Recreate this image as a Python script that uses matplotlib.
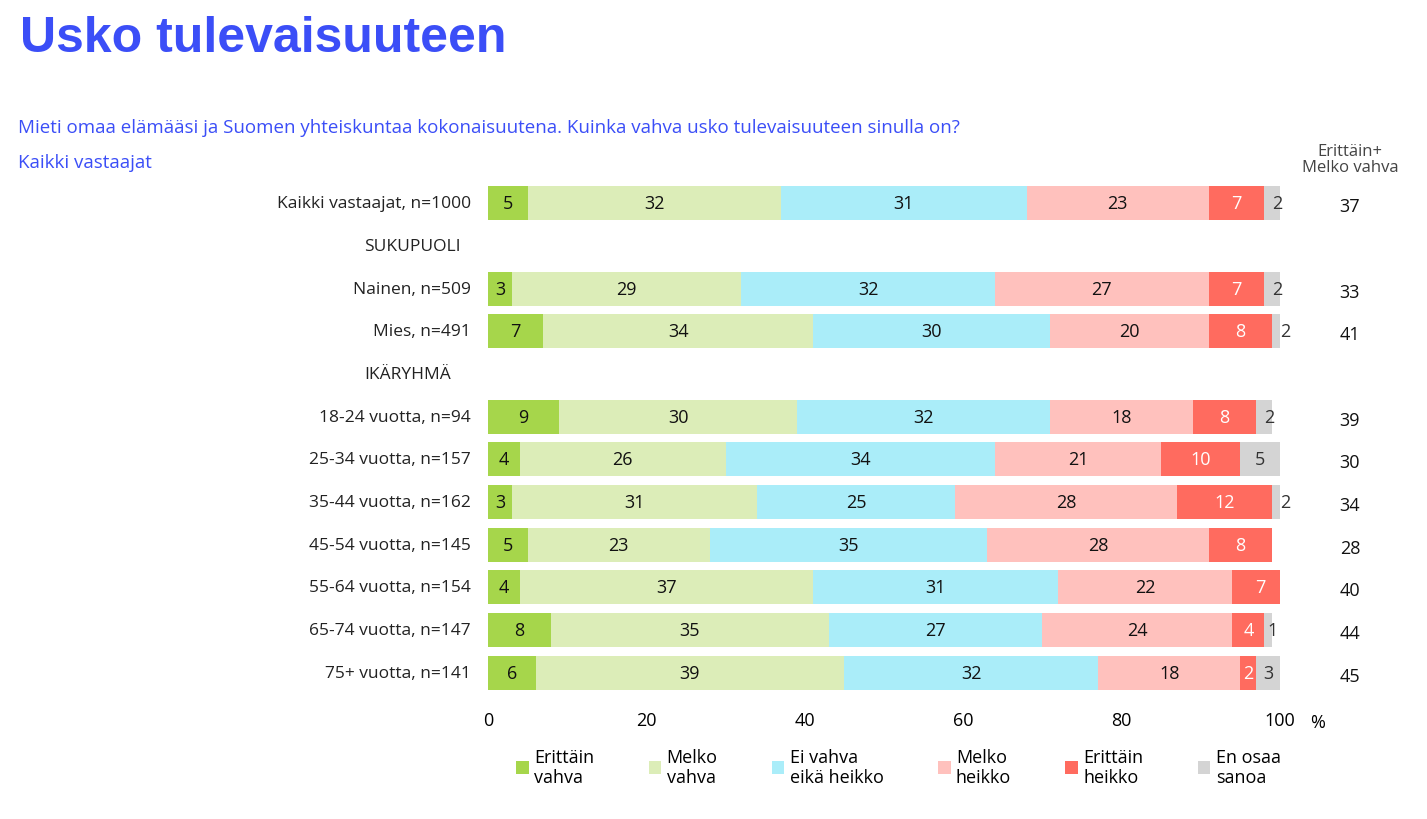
import numpy as np
import matplotlib
matplotlib.use('Agg')
import matplotlib.pyplot as plt
import matplotlib.transforms as mtrans
from matplotlib.patches import Patch

# rows, section headers take a row slot of their own
rows = ["Kaikki vastaajat, n=1000", "SUKUPUOLI", "Nainen, n=509", "Mies, n=491",
        "IKÄRYHMÄ", "18-24 vuotta, n=94", "25-34 vuotta, n=157", "35-44 vuotta, n=162",
        "45-54 vuotta, n=145", "55-64 vuotta, n=154", "65-74 vuotta, n=147",
        "75+ vuotta, n=141"]
headers = ["SUKUPUOLI", "IKÄRYHMÄ"]

erittain_vahva = [5, None, 3, 7, None, 9, 4, 3, 5, 4, 8, 6]
melko_vahva = [32, None, 29, 34, None, 30, 26, 31, 23, 37, 35, 39]
ei_vahva = [31, None, 32, 30, None, 32, 34, 25, 35, 31, 27, 32]
melko_heikko = [23, None, 27, 20, None, 18, 21, 28, 28, 22, 24, 18]
erittain_heikko = [7, None, 7, 8, None, 8, 10, 12, 8, 7, 4, 2]
en_osaa = [2, None, 2, 2, None, 2, 5, 2, 0, 0, 1, 3]
vahva_yht = [37, None, 33, 41, None, 39, 30, 34, 28, 40, 44, 45]

series = [erittain_vahva, melko_vahva, ei_vahva, melko_heikko, erittain_heikko, en_osaa]
names = ["Erittäin\nvahva", "Melko\nvahva", "Ei vahva\neikä heikko", "Melko\nheikko",
         "Erittäin\nheikko", "En osaa\nsanoa"]
colors = ["#A6D64B", "#DCEDB8", "#AAEDF9", "#FFC1BD", "#FF6B5F", "#D4D4D4"]
txtcol = ["#111111", "#111111", "#111111", "#111111", "white", "#333333"]

blue = "#3B4EF7"
plt.rcParams['font.family'] = ['Open Sans', 'DejaVu Sans']

fig = plt.figure(figsize=(14.27, 8.2), dpi=100)
ax = fig.add_axes([488/1427, 1-695/820, (1280-488)/1427, (695-183)/820])
ax.set_ylim(len(rows) - 0.5, -0.5)
ax.set_xlim(0, 100)

for i, lab in enumerate(rows):
    if lab in headers:
        continue
    left = 0
    for s, col, tc in zip(series, colors, txtcol):
        v = s[i]
        if v:
            ax.barh(i, v, left=left, height=0.8, color=col, edgecolor='none')
            dx = 0.6 if (col == colors[5] and v < 3) else 0
            ax.text(left + v/2 + dx, i, str(v), ha='center', va='center',
                    fontsize=13, color=tc)
            left += v

trans = mtrans.blended_transform_factory(fig.transFigure, ax.transData)
for i, lab in enumerate(rows):
    if lab in headers:
        ax.text(364/1427, i, lab, transform=trans, ha='left', va='center',
                fontsize=12.5, color='#222222')
    else:
        ax.text(471/1427, i, lab, transform=trans, ha='right', va='center',
                fontsize=12.5, color='#222222')
        ax.text(1350/1427, i + 0.07, str(vahva_yht[i]), transform=trans,
                ha='center', va='center', fontsize=13, color='#111111')

ax.set_yticks([])
ax.set_xticks([0, 20, 40, 60, 80, 100])
ax.tick_params(axis='x', length=0, labelsize=13, pad=12)
for sp in ax.spines.values():
    sp.set_visible(False)
fig.text(1318/1427, 1-723/820, "%", fontsize=13, ha='center', va='center')

fig.text(20/1427, 1-39/820, "Usko tulevaisuuteen", fontsize=36, fontweight='bold',
         color=blue, family='Liberation Sans', va='center', ha='left')
fig.text(18/1427, 1-128/820,
         "Mieti omaa elämääsi ja Suomen yhteiskuntaa kokonaisuutena. Kuinka vahva usko tulevaisuuteen sinulla on?",
         fontsize=13.5, color=blue, va='center', ha='left')
fig.text(18/1427, 1-163/820, "Kaikki vastaajat", fontsize=13.5, color=blue,
         va='center', ha='left')
fig.text(1350/1427, 1-160/820, "Erittäin+\nMelko vahva", fontsize=12,
         color='#444444', ha='center', va='center', linespacing=0.95)

handles = [Patch(facecolor=c, edgecolor='none') for c in colors]
fig.legend(handles, names, loc='center left', bbox_to_anchor=(500/1427, 1-768/820),
           ncol=6, frameon=False, fontsize=13, handlelength=0.7, handleheight=0.7,
           handletextpad=0.3, columnspacing=3.0, labelspacing=0.3)

fig.savefig("out.png", dpi=100)
